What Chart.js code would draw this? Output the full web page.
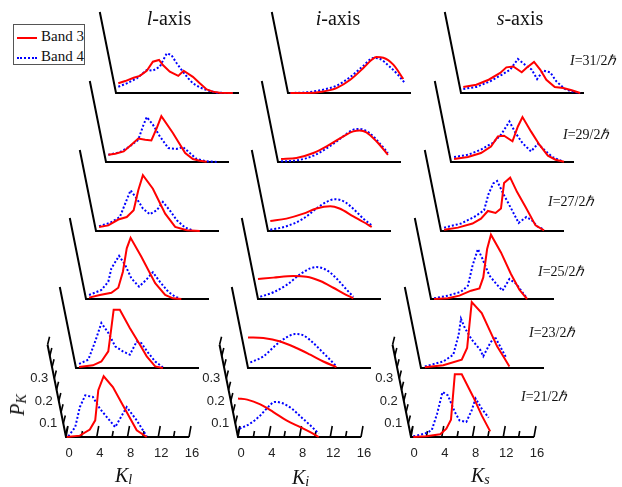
<!DOCTYPE html>
<html lang="en">
<head>
<meta charset="UTF-8">
<title>K distributions along l, i, s axes</title>
<script src="https://cdn.jsdelivr.net/npm/chart.js"></script>
<style>
    body { margin: 0; background: #fff; }
    #wrap {
        position: relative;
        width: 622px;
        height: 487px;
        overflow: hidden;
        font-family: 'Liberation Serif', 'Times New Roman', serif;
        color: #111;
    }
    #wrap canvas { position: absolute; }
    .txt { position: absolute; white-space: nowrap; line-height: 1; }
    .sub { position: relative; top: 2px; font-size: 14px; }
    #legend { position: absolute; left: 13px; top: 24px; width: 70px; height: 39px; border: 1px solid #555; }
    .sw { position: absolute; width: 20px; height: 0; }
</style>
</head>
<body>
<div id="wrap">
    <div id="legend"></div>
    <span class="sw" style="left:17px;top:37px;border-top:2px solid #ff0000"></span>
    <span class="sw" style="left:17px;top:57px;border-top:2px dotted #0000ff"></span>
    <div class="txt" style="left:41px;top:29px;font-size:15px">Band 3</div>
    <div class="txt" style="left:41px;top:49px;font-size:15px">Band 4</div>
</div>
<script>
    // panel grid: columns = rotation axis, rows = spin
    const axes = ['l', 'i', 's'];
    const spins = ['31/2', '29/2', '27/2', '25/2', '23/2', '21/2'];
    const kTicks = [0, 4, 8, 12, 16];
    const pTicks = [0.1, 0.2, 0.3];

    // [K, P_K]
    // l-axis
    const l31_b3 = [[0.3,0.083],[1.2,0.093],[2.3,0.108],[3.1,0.116],[4.0,0.139],[4.8,0.179],[5.6,0.187],[6.1,0.164],[7.0,0.135],[8.1,0.116],[8.8,0.139],[10.0,0.112],[10.9,0.083],[11.8,0.056],[12.6,0.046],[13.5,0.041],[15.2,0.04]];
    const l31_b4 = [[0.3,0.068],[1.4,0.083],[2.7,0.105],[4.0,0.142],[4.8,0.139],[5.7,0.157],[6.6,0.216],[7.2,0.209],[7.9,0.172],[8.7,0.135],[9.4,0.105],[10.0,0.083],[10.9,0.065],[11.8,0.053],[13.1,0.041],[15.2,0.04]];
    const l29_b3 = [[0.3,0.072],[1.2,0.077],[2.3,0.087],[3.3,0.117],[4.2,0.144],[5.1,0.139],[5.9,0.136],[6.6,0.191],[7.2,0.244],[8.7,0.169],[10.3,0.08],[11.3,0.053],[12.2,0.046],[13.1,0.041]];
    const l29_b4 = [[0.3,0.072],[1.8,0.083],[3.1,0.109],[4.2,0.139],[4.8,0.198],[5.3,0.24],[6.1,0.206],[7.0,0.154],[8.1,0.102],[9.2,0.098],[10.0,0.107],[10.9,0.08],[11.8,0.053],[13.1,0.043],[14.4,0.04]];
    const l27_b3 = [[0.4,0.058],[1.6,0.065],[2.9,0.091],[4.0,0.102],[4.9,0.132],[5.5,0.221],[6.1,0.288],[7.4,0.228],[9.0,0.117],[10.3,0.058],[11.8,0.043],[13.5,0.04]];
    const l27_b4 = [[0.4,0.061],[1.8,0.076],[3.1,0.102],[3.8,0.162],[4.5,0.221],[5.3,0.184],[6.1,0.14],[7.0,0.114],[7.9,0.132],[8.7,0.169],[9.6,0.132],[10.5,0.088],[11.6,0.055],[12.6,0.043]];
    const l25_b3 = [[0.4,0.046],[1.8,0.058],[3.3,0.068],[4.2,0.09],[4.8,0.161],[5.3,0.265],[5.8,0.312],[7.2,0.228],[9.0,0.11],[10.3,0.058],[11.3,0.043],[12.4,0.04]];
    const l25_b4 = [[0.4,0.058],[2.0,0.08],[2.9,0.117],[3.3,0.176],[4.3,0.232],[5.1,0.191],[5.9,0.132],[6.9,0.095],[7.8,0.124],[8.7,0.159],[9.6,0.117],[10.7,0.072],[11.6,0.05],[12.2,0.043]];
    const l23_b3 = [[0.4,0.044],[2.2,0.052],[3.3,0.069],[4.2,0.114],[4.6,0.218],[4.9,0.299],[5.7,0.299],[7.0,0.218],[8.3,0.144],[9.2,0.092],[10.3,0.047],[11.3,0.04]];
    const l23_b4 = [[0.4,0.058],[1.6,0.077],[2.5,0.158],[3.3,0.24],[4.2,0.196],[5.1,0.136],[6.1,0.114],[7.0,0.099],[7.9,0.158],[8.5,0.151],[9.4,0.107],[10.3,0.069],[11.3,0.043]];
    const l21_b3 = [[0.1,0.04],[1.8,0.046],[3.1,0.073],[3.8,0.114],[4.2,0.248],[4.9,0.31],[6.1,0.262],[7.4,0.181],[9.2,0.07],[10.5,0.04]];
    const l21_b4 = [[0.3,0.043],[1.2,0.084],[1.8,0.173],[2.5,0.225],[3.5,0.218],[4.4,0.166],[6.4,0.084],[7.9,0.173],[9.2,0.114],[10.5,0.043]];
    // i-axis
    const i31_b3 = [[0.3,0.04],[2.4,0.04],[4.6,0.047],[6.3,0.062],[8.1,0.099],[9.8,0.151],[10.9,0.188],[11.5,0.2],[12.4,0.197],[13.7,0.166],[15.0,0.102]];
    const i31_b4 = [[0.3,0.04],[2.4,0.043],[4.6,0.055],[6.3,0.072],[8.1,0.111],[9.8,0.161],[11.1,0.196],[12.0,0.191],[13.2,0.158],[14.3,0.121],[15.2,0.084]];
    const i29_b3 = [[0.4,0.053],[2.4,0.058],[4.6,0.08],[6.7,0.117],[8.5,0.154],[9.8,0.176],[10.6,0.18],[11.5,0.172],[12.8,0.132],[14.3,0.072]];
    const i29_b4 = [[0.4,0.043],[2.4,0.047],[4.6,0.068],[6.7,0.109],[8.5,0.154],[9.8,0.184],[10.6,0.187],[11.9,0.169],[13.2,0.124],[14.3,0.08]];
    const i27_b3 = [[0.3,0.084],[2.4,0.095],[4.6,0.117],[6.3,0.14],[8.1,0.15],[9.3,0.14],[11.1,0.105],[12.4,0.08],[13.5,0.058]];
    const i27_b4 = [[0.3,0.046],[2.4,0.061],[4.6,0.095],[6.3,0.14],[7.6,0.169],[8.7,0.181],[10.0,0.169],[11.3,0.132],[12.4,0.095],[13.5,0.065]];
    const i25_b3 = [[0,0.129],[2.0,0.135],[4.6,0.142],[6.3,0.139],[8.1,0.12],[9.8,0.09],[11.1,0.065],[12.4,0.043]];
    const i25_b4 = [[0.3,0.05],[2.0,0.07],[3.7,0.102],[5.5,0.15],[6.8,0.176],[7.6,0.182],[8.9,0.169],[10.2,0.132],[11.3,0.09],[12.4,0.05]];
    const i23_b3 = [[0,0.176],[2.0,0.173],[4.2,0.158],[6.3,0.129],[8.1,0.099],[9.8,0.069],[11.5,0.044]];
    const i23_b4 = [[0.3,0.065],[2.0,0.092],[3.7,0.144],[5.0,0.176],[6.1,0.191],[7.2,0.185],[8.5,0.151],[9.8,0.107],[10.9,0.069],[11.5,0.047]];
    const i21_b3 = [[0,0.211],[1.2,0.206],[2.9,0.185],[4.6,0.151],[6.3,0.114],[8.1,0.084],[9.4,0.062],[10.5,0.04]];
    const i21_b4 = [[0.2,0.077],[1.6,0.1],[2.9,0.136],[4.0,0.176],[4.8,0.196],[5.7,0.191],[7.0,0.166],[8.3,0.126],[9.4,0.092],[10.5,0.055]];
    // s-axis
    const s31_b3 = [[0.3,0.067],[2.0,0.077],[3.6,0.099],[5.1,0.129],[5.9,0.154],[6.8,0.158],[7.9,0.132],[8.5,0.151],[9.5,0.178],[10.3,0.144],[11.1,0.099],[12.2,0.067],[13.3,0.062],[14.4,0.052],[15.5,0.04]];
    const s31_b4 = [[0.3,0.058],[2.0,0.067],[3.8,0.092],[5.3,0.121],[6.4,0.144],[7.4,0.191],[8.3,0.166],[9.2,0.144],[9.9,0.102],[10.7,0.14],[11.6,0.132],[12.4,0.092],[13.5,0.058],[14.4,0.047],[15.5,0.04]];
    const s29_b3 = [[0.4,0.053],[2.2,0.062],[3.9,0.08],[5.2,0.109],[6.1,0.154],[6.9,0.157],[8.0,0.132],[8.7,0.198],[9.3,0.24],[10.4,0.176],[11.5,0.117],[12.6,0.068],[13.6,0.05],[14.7,0.041]];
    const s29_b4 = [[0.4,0.062],[2.2,0.072],[3.9,0.095],[5.4,0.124],[6.5,0.161],[7.6,0.22],[8.4,0.169],[9.3,0.124],[10.4,0.087],[11.3,0.121],[12.1,0.095],[13.2,0.062],[14.5,0.043]];
    const s27_b3 = [[0.4,0.046],[2.2,0.055],[4.1,0.073],[5.2,0.095],[6.1,0.129],[7.1,0.12],[7.8,0.14],[8.2,0.253],[9.0,0.277],[9.9,0.213],[11.0,0.147],[12.3,0.065],[13.4,0.043]];
    const s27_b4 = [[0.4,0.055],[2.6,0.073],[4.3,0.102],[5.6,0.132],[6.2,0.206],[6.8,0.251],[7.3,0.262],[8.2,0.199],[9.2,0.135],[10.1,0.076],[11.1,0.102],[11.8,0.088],[12.5,0.061],[13.4,0.046]];
    const s25_b3 = [[0.4,0.04],[2.2,0.043],[3.7,0.055],[5.2,0.077],[6.3,0.087],[6.8,0.136],[7.3,0.262],[7.8,0.326],[9.1,0.247],[10.4,0.151],[11.5,0.081],[12.5,0.04]];
    const s25_b4 = [[0.4,0.043],[2.2,0.055],[3.9,0.072],[4.8,0.099],[5.4,0.188],[6.1,0.262],[6.7,0.218],[7.6,0.144],[8.5,0.107],[9.3,0.077],[10.2,0.129],[11.1,0.107],[11.9,0.069],[12.5,0.043]];
    const s23_b3 = [[0.5,0.043],[2.9,0.052],[5.3,0.077],[6.0,0.129],[6.3,0.232],[6.6,0.333],[7.9,0.284],[9.0,0.203],[9.9,0.136],[10.7,0.092],[11.5,0.047]];
    const s23_b4 = [[0.5,0.047],[2.9,0.069],[4.2,0.099],[4.9,0.188],[5.2,0.259],[5.7,0.218],[6.6,0.166],[7.7,0.121],[8.1,0.092],[9.0,0.151],[9.6,0.18],[10.3,0.136],[11.1,0.084]];
    const s21_b3 = [[0.3,0.04],[2.0,0.043],[3.8,0.052],[4.6,0.077],[5.2,0.117],[5.7,0.319],[6.6,0.319],[8.1,0.218],[9.2,0.136],[10.3,0.065]];
    const s21_b4 = [[0.3,0.043],[1.8,0.055],[2.7,0.07],[3.4,0.144],[4.1,0.24],[4.8,0.225],[5.7,0.151],[6.3,0.114],[7.2,0.107],[7.9,0.159],[8.4,0.211],[9.2,0.166],[10.1,0.126]];

    const band3 = [
        [l31_b3, l29_b3, l27_b3, l25_b3, l23_b3, l21_b3],
        [i31_b3, i29_b3, i27_b3, i25_b3, i23_b3, i21_b3],
        [s31_b3, s29_b3, s27_b3, s25_b3, s23_b3, s21_b3]
    ];
    const band4 = [
        [l31_b4, l29_b4, l27_b4, l25_b4, l23_b4, l21_b4],
        [i31_b4, i29_b4, i27_b4, i25_b4, i23_b4, i21_b4],
        [s31_b4, s29_b4, s27_b4, s25_b4, s23_b4, s21_b4]
    ];

    // layout of the staircase
    const colX = [116, 288, 461];
    const rowBase = [93, 162, 231, 299, 368, 437];
    const rowShift = 10;
    const plotW = 123, plotH = 81;
    const yMin = 0.04, yMax = 0.40;
    const slant = 0.2;

    const wrap = document.getElementById('wrap');

    function addText(html, x, baseline, size, extra) {
        const d = document.createElement('div');
        d.className = 'txt';
        d.innerHTML = html;
        d.style.fontSize = size + 'px';
        d.style.left = x + 'px';
        d.style.top = (baseline - 0.84 * size) + 'px';
        if (extra) Object.assign(d.style, extra);
        wrap.appendChild(d);
        return d;
    }

    // slanted P axis, K baseline, and the tick work on the front row
    const frame = {
        id: 'frame',
        beforeDatasetsDraw(chart, args, opts) {
            const { ctx } = chart;
            const x = chart.scales.x, y = chart.scales.y;
            const bx = x.getPixelForValue(0), ex = x.getPixelForValue(16);
            const by = y.getPixelForValue(yMin);
            const axisX = py => bx - (by - py) * slant;
            const ty = y.getPixelForValue(opts.top);
            ctx.save();
            ctx.strokeStyle = '#000';
            ctx.lineWidth = 2;
            ctx.beginPath();
            ctx.moveTo(axisX(ty), ty);
            ctx.lineTo(bx, by);
            ctx.lineTo(ex, by);
            ctx.stroke();
            if (opts.ticks) {
                ctx.lineWidth = 1.6;
                ctx.beginPath();
                for (let k = 0; k <= 16; k += 2) {
                    const px = x.getPixelForValue(k);
                    const len = k % 4 === 0 ? 11 : 6;
                    ctx.moveTo(px, by);
                    ctx.lineTo(px + len * 0.18, by - len);
                }
                for (let v = 0.05; v <= opts.top + 0.001; v += 0.05) {
                    const py = y.getPixelForValue(v), ax = axisX(py);
                    ctx.moveTo(ax, py);
                    ctx.lineTo(ax + 2, py - 8);
                }
                ctx.stroke();
                ctx.fillStyle = '#222';
                ctx.font = '13px "Liberation Sans", Arial, sans-serif';
                ctx.textAlign = 'right';
                ctx.textBaseline = 'middle';
                pTicks.forEach(v => {
                    const py = y.getPixelForValue(v);
                    ctx.fillText(v.toFixed(1), axisX(py) - 6, py);
                });
            }
            ctx.restore();
        }
    };

    axes.forEach((ax, c) => {
        spins.forEach((spin, r) => {
            const front = r === spins.length - 1;
            const x0 = colX[c] - rowShift * r;
            const base = rowBase[r];
            const padL = 48, padR = 12, padT = 20, padB = front ? 0 : 6, xH = front ? 30 : 0;
            const cv = document.createElement('canvas');
            cv.width = padL + plotW + padR;
            cv.height = padT + plotH + padB + xH;
            cv.style.left = (x0 - padL) + 'px';
            cv.style.top = (base - plotH - padT) + 'px';
            wrap.appendChild(cv);

            const smooth = ax === 'i';
            const toXY = arr => arr.map(p => ({ x: p[0], y: p[1] }));

            new Chart(cv, {
                type: 'line',
                data: {
                    datasets: [{
                        label: 'Band 3',
                        data: toXY(band3[c][r]),
                        borderColor: '#ff0000',
                        borderWidth: 2,
                        pointRadius: 0,
                        tension: smooth ? 0.4 : 0,
                        cubicInterpolationMode: smooth ? 'monotone' : 'default',
                        clip: false
                    }, {
                        label: 'Band 4',
                        data: toXY(band4[c][r]),
                        borderColor: '#0000ff',
                        borderWidth: 2,
                        borderDash: [2, 2],
                        pointRadius: 0,
                        tension: smooth ? 0.4 : 0,
                        cubicInterpolationMode: smooth ? 'monotone' : 'default',
                        clip: false
                    }]
                },
                options: {
                    responsive: false,
                    animation: false,
                    events: [],
                    layout: { padding: { left: padL, right: padR, top: padT, bottom: padB } },
                    plugins: {
                        legend: { display: false },
                        tooltip: { enabled: false },
                        frame: { top: front ? 0.45 : yMax, ticks: front }
                    },
                    scales: {
                        x: {
                            type: 'linear',
                            min: 0,
                            max: 16,
                            display: front,
                            grid: { display: false, drawTicks: false, tickLength: 0 },
                            border: { display: false },
                            afterBuildTicks: s => { s.ticks = kTicks.map(v => ({ value: v })); },
                            afterFit: s => { s.height = xH; s.paddingLeft = 0; s.paddingRight = 0; },
                            ticks: {
                                padding: 9,
                                labelOffset: 3,
                                maxRotation: 0,
                                autoSkip: false,
                                color: '#222',
                                font: { family: '"Liberation Sans", Arial, sans-serif', size: 13 }
                            }
                        },
                        y: { type: 'linear', min: yMin, max: yMax, display: false }
                    }
                },
                plugins: [frame]
            });
        });
    });

    // column titles
    const titleX = [169, 338, 520];
    axes.forEach((ax, c) => {
        addText('<i>' + ax + '</i>-axis', titleX[c], 25, 20, { transform: 'translateX(-50%)' });
    });

    // spin labels
    const spinX = [570, 563, 548, 538, 529, 521];
    const spinY = [66, 140, 207, 277, 338, 402];
    spins.forEach((s, r) => {
        addText('<i>I</i>=' + s + '<i>\u210F</i>', spinX[r], spinY[r], 14);
    });

    // axis names
    const kX = [115, 292, 471];
    const kY = [482, 484, 482];
    axes.forEach((ax, c) => {
        addText('<i>K</i><i class="sub">' + ax + '</i>', kX[c], kY[c], 20);
    });

    const pk = document.createElement('div');
    pk.style.cssText = 'position:absolute;left:17px;top:405px;width:0;height:0;';
    pk.innerHTML = '<div class="txt" style="left:0;top:0;font-size:20px;transform:translate(-50%,-50%) rotate(-90deg)"><i>P</i><i class="sub">K</i></div>';
    wrap.appendChild(pk);
</script>
</body>
</html>
